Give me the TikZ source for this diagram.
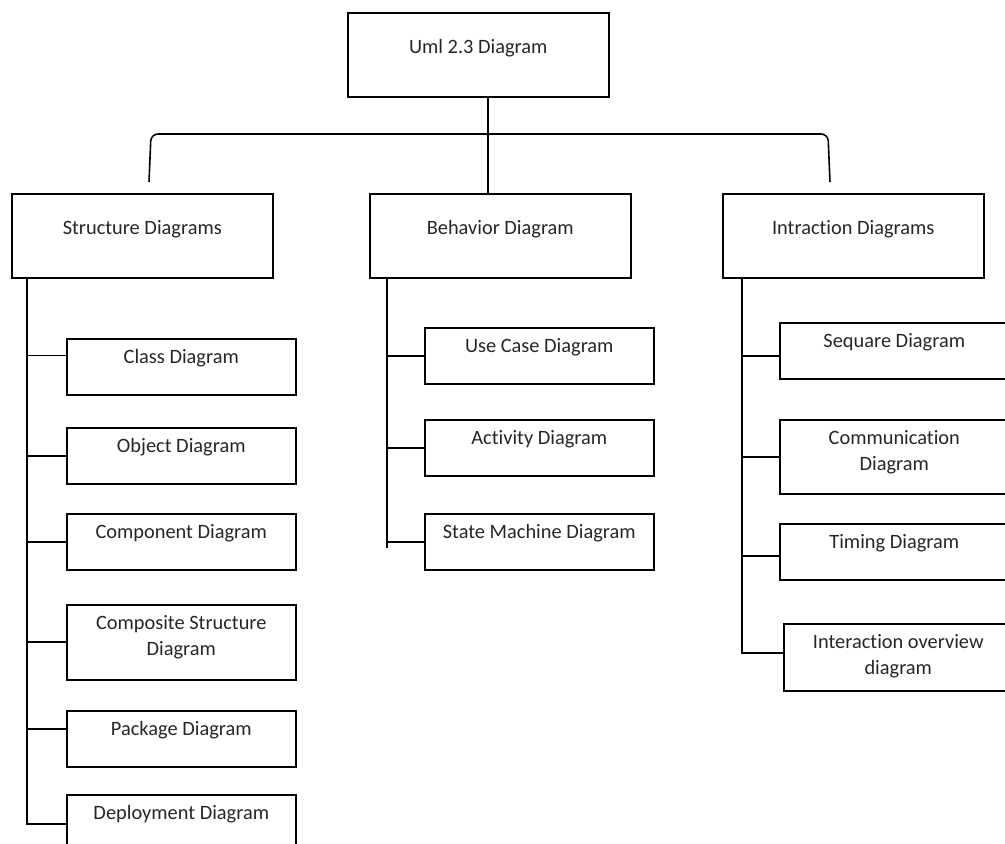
\documentclass[tikz,border=0pt]{standalone}
\usepackage{fontspec}
\setmainfont{Carlito}[Ligatures=NoCommon]
\usepackage{tikz}
\usetikzlibrary{calc}

\tikzset{
  lbl/.style={anchor=north, yshift=-0.22cm, inner sep=0pt, align=center,
    font=\fontsize{11.6}{14.8}\selectfont, text=black!85},
  ttl/.style={label={[lbl]north:#1}},
  pttl/.style={label={[lbl, yshift=-0.32cm]north:#1}},
  pbox/.style={draw, anchor=north west, inner sep=0pt,
    minimum width=5.22cm, minimum height=1.68cm},
  cbox/.style={draw, anchor=north west, inner sep=0pt,
    minimum width=4.58cm, minimum height=1.13cm},
}

\begin{document}
\begin{tikzpicture}[x=0.02cm, y=-0.02cm, line width=0.9pt]
  \clip (0,0) rectangle (1005,844);

  % Root
  \node[pbox, pttl={Uml 2.3 Diagram}] (uml) at (347,12) {};

  % Three groups
  \node[pbox, pttl={Structure Diagrams}] (sd) at (11,193) {};
  \node[pbox, pttl={Behavior Diagram}] (bd) at (369,193) {};
  \node[pbox, pttl={Intraction Diagrams}] (id) at (722,193) {};

  % Bracket from the root
  \coordinate (stem) at ($(uml.south)+(10,0)$);
  \coordinate (brl) at (149,182);
  \coordinate (brr) at (830,182);
  \draw (stem) -- (stem |- bd.north);
  \draw[rounded corners=4pt] (brl) -- (151,134) -- (828,134) -- (brr);

  % Structure children
  \node[cbox, ttl={Class Diagram}] (cls) at (66,338) {};
  \node[cbox, ttl={Object Diagram}] (obj) at (66,427) {};
  \node[cbox, ttl={Component Diagram}] (cmp) at (66,513) {};
  \node[cbox, minimum height=1.5cm, ttl={Composite Structure\\Diagram}] (cps) at (66,604) {};
  \node[cbox, ttl={Package Diagram}] (pkg) at (66,710) {};
  \node[cbox, minimum height=1.2cm, ttl={Deployment Diagram}] (dep) at (66,794) {};

  \coordinate (sdsp) at ($(sd.south west)+(16,0)$);
  \draw (sdsp) |- ([yshift=0.02cm]dep.west);
  \draw ([yshift=0.23cm]cls.west) -- ([yshift=0.23cm]cls.west -| sdsp);
  \draw (obj.west) -- (obj.west -| sdsp);
  \draw (cmp.west) -- (cmp.west -| sdsp);
  \draw (cps.west) -- (cps.west -| sdsp);
  \draw ([yshift=0.2cm]pkg.west) -- ([yshift=0.2cm]pkg.west -| sdsp);

  % Behavior children
  \node[cbox, ttl={Use Case Diagram}] (uc) at (424,327) {};
  \node[cbox, ttl={Activity Diagram}] (act) at (424,419) {};
  \node[cbox, ttl={State Machine Diagram}] (stm) at (424,513) {};

  \coordinate (bdsp) at ($(bd.south west)+(18,0)$);
  \draw (bdsp) -- ($(stm.west -| bdsp)+(0,6)$);
  \draw (uc.west) -- (uc.west -| bdsp);
  \draw (act.west) -- (act.west -| bdsp);
  \draw (stm.west) -- (stm.west -| bdsp);

  % Interaction children
  \node[cbox, ttl={Sequare Diagram}] (seq) at (779,322) {};
  \node[cbox, minimum height=1.48cm, ttl={Communication\\Diagram}] (com) at (779,419) {};
  \node[cbox, ttl={Timing Diagram}] (tim) at (779,523) {};
  \node[cbox, minimum height=1.34cm, ttl={Interaction overview\\diagram}] (iov) at (783,623) {};

  \coordinate (idsp) at ($(id.south west)+(20,0)$);
  \draw (idsp) |- ([yshift=0.09cm]iov.west);
  \draw ([yshift=-0.1cm]seq.west) -- ([yshift=-0.1cm]seq.west -| idsp);
  \draw (com.west) -- (com.west -| idsp);
  \draw ([yshift=-0.08cm]tim.west) -- ([yshift=-0.08cm]tim.west -| idsp);
\end{tikzpicture}
\end{document}
